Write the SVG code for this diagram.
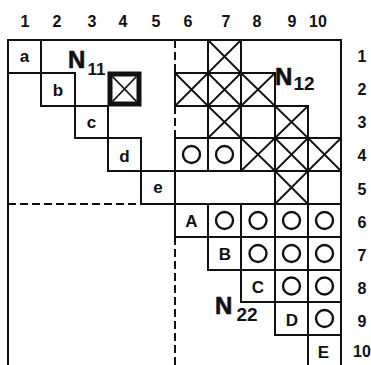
<svg xmlns="http://www.w3.org/2000/svg" width="371" height="365" viewBox="0 0 371 365">
<style>
.ln{stroke:#111;stroke-width:2;fill:none;stroke-linecap:square}
.dash{stroke:#111;stroke-width:2;fill:none;stroke-dasharray:8 4}
.x{stroke:#111;stroke-width:1.8;fill:none}
.o{stroke:#111;stroke-width:2.4;fill:none}
.lab{font-family:"Liberation Sans",Arial,sans-serif;font-weight:bold;font-size:16px;fill:#111;text-anchor:middle}
.cell{font-family:"Liberation Sans",Arial,sans-serif;font-weight:bold;font-size:17px;fill:#111;text-anchor:middle}
.big{font-family:"Liberation Sans",Arial,sans-serif;font-weight:bold;font-size:24px;fill:#111;stroke:#111;stroke-width:0.6}
.sub{font-family:"Liberation Sans",Arial,sans-serif;font-weight:bold;fill:#111;stroke:none}
</style>
<rect width="371" height="365" fill="#fff"/>
<g id="headers">
<text class="lab" x="25" y="27">1</text>
<text class="lab" x="57" y="27">2</text>
<text class="lab" x="92" y="27">3</text>
<text class="lab" x="123" y="27">4</text>
<text class="lab" x="156" y="27">5</text>
<text class="lab" x="188" y="27">6</text>
<text class="lab" x="226" y="27">7</text>
<text class="lab" x="257" y="27">8</text>
<text class="lab" x="292" y="27">9</text>
<text class="lab" x="318" y="27">10</text>
<text class="lab" x="362" y="62">1</text>
<text class="lab" x="362" y="95">2</text>
<text class="lab" x="362" y="128">3</text>
<text class="lab" x="362" y="161">4</text>
<text class="lab" x="362" y="195">5</text>
<text class="lab" x="362" y="228">6</text>
<text class="lab" x="362" y="261">7</text>
<text class="lab" x="362" y="294">8</text>
<text class="lab" x="362" y="327">9</text>
<text class="lab" x="362" y="357">10</text>
</g>
<g id="connectors">
<path class="ln" d="M8 40H341M8 40V365M341 40V365"/>
<path class="ln" d="M8 73H75M41 40V106M41 106H108M75 73V138M75 138H141M108 106V171M108 171H341M141 138V204M141 204H341"/>
<path class="dash" d="M8 204H141"/>
<path class="ln" d="M175 73V106M175 138V237"/>
<path class="dash" d="M175 40V73M175 106V138M175 237V365"/>
<path class="ln" d="M208 40V73M241 40V73M175 73H275M208 73V106M241 73V106M275 73V106M175 106H308M208 106V138M241 106V138M275 106V138M308 106V138M175 138H341M208 138V171M241 138V171M275 138V171M308 138V171M275 171V204M308 171V204"/>
<path class="ln" d="M208 204V237M241 204V237M275 204V237M308 204V237M175 237H341M208 237V270M241 237V270M275 237V270M308 237V270M208 270H341M241 270V302M275 270V302M308 270V302M241 302H341M275 302V335M308 302V335M275 335H341M308 335V365"/>
</g>
<g id="crosses">
<path class="x" d="M208 40L241 73M241 40L208 73"/>
<path class="x" d="M175 73L208 106M208 73L175 106"/>
<path class="x" d="M208 73L241 106M241 73L208 106"/>
<path class="x" d="M241 73L275 106M275 73L241 106"/>
<path class="x" d="M208 106L241 138M241 106L208 138"/>
<path class="x" d="M275 106L308 138M308 106L275 138"/>
<path class="x" d="M241 138L275 171M275 138L241 171"/>
<path class="x" d="M275 138L308 171M308 138L275 171"/>
<path class="x" d="M308 138L341 171M341 138L308 171"/>
<path class="x" d="M275 171L308 204M308 171L275 204"/>
</g>
<g id="pivot">
<rect x="110" y="74" width="29" height="30" fill="none" stroke="#111" stroke-width="5"/>
<path class="x" d="M112.5 76.5L136.5 101.5M136.5 76.5L112.5 101.5"/>
</g>
<g id="circles">
<circle class="o" cx="191.5" cy="154.5" r="8.5"/>
<circle class="o" cx="224.5" cy="154.5" r="8.5"/>
<circle class="o" cx="224.5" cy="220.5" r="8.5"/>
<circle class="o" cx="258" cy="220.5" r="8.5"/>
<circle class="o" cx="291.5" cy="220.5" r="8.5"/>
<circle class="o" cx="324.5" cy="220.5" r="8.5"/>
<circle class="o" cx="258" cy="253.5" r="8.5"/>
<circle class="o" cx="291.5" cy="253.5" r="8.5"/>
<circle class="o" cx="324.5" cy="253.5" r="8.5"/>
<circle class="o" cx="291.5" cy="286" r="8.5"/>
<circle class="o" cx="324.5" cy="286" r="8.5"/>
<circle class="o" cx="324.5" cy="318.5" r="8.5"/>
</g>
<g id="diag-lower">
<text class="cell" x="24.5" y="62">a</text>
<text class="cell" x="58" y="96">b</text>
<text class="cell" x="91.5" y="128">c</text>
<text class="cell" x="124.5" y="162">d</text>
<text class="cell" x="158" y="193">e</text>
</g>
<g id="diag-upper">
<text class="cell" x="191.5" y="227" font-size="16">A</text>
<text class="cell" x="225" y="260" font-size="16">B</text>
<text class="cell" x="258" y="293" font-size="16">C</text>
<text class="cell" x="292" y="326" font-size="16">D</text>
<text class="cell" x="323.5" y="358" font-size="16">E</text>
</g>
<g id="block-labels">
<text class="big" x="68" y="68">N<tspan class="sub" x="87.5" y="75" font-size="17">11</tspan></text>
<text class="big" x="275" y="85">N<tspan class="sub" x="293.5" y="90" font-size="19">12</tspan></text>
<text class="big" x="215" y="314">N<tspan class="sub" x="236.5" y="321" font-size="19">22</tspan></text>
</g>
</svg>
